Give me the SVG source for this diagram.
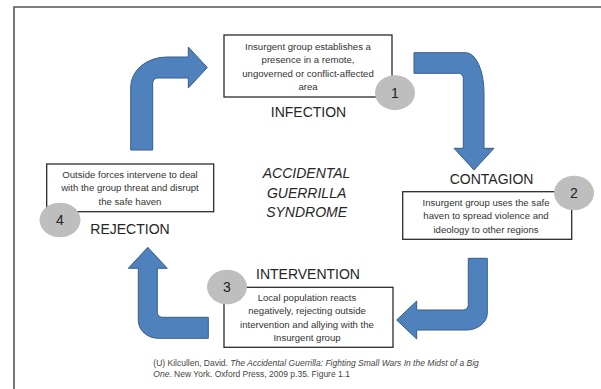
<svg xmlns="http://www.w3.org/2000/svg" width="601" height="389" viewBox="0 0 601 389">
<style>
.box{fill:#fff;stroke:#2b2b2b;stroke-width:1.3}
.bt{font-family:"Liberation Sans",Arial,sans-serif;font-size:9.6px;fill:#333;text-anchor:middle}
.hd{font-family:"Liberation Sans",Arial,sans-serif;font-size:14px;fill:#262626;text-anchor:middle}
.num{font-family:"Liberation Sans",Arial,sans-serif;font-size:14px;fill:#222;text-anchor:middle}
.badge{fill:#bebebe}
.arr{fill:#4f81bd;stroke:#385d8a;stroke-width:1}
.ctr{font-family:"Liberation Sans",Arial,sans-serif;font-size:14px;font-style:italic;fill:#262626;text-anchor:middle}
.cit{font-family:"Liberation Sans",Arial,sans-serif;font-size:8.5px;fill:#444}
</style>
<rect width="601" height="389" fill="#fff"/>
<path d="M14,389 V7 H601" fill="none" stroke="#555" stroke-width="1.6"/>
<g id="connectors">
<path class="arr" d="M414,52.7 H466 A18,40 0 0 1 484,93 V148.3 H494 L474,170 L454,148.3 H463.3 V78.3 A5,5 0 0 0 458.3,73.3 H414 Z"/>
<path class="arr" d="M468.3,258.3 H487.3 V313 A21,17 0 0 1 466.3,330 H416.7 V339 L396.7,320 L416.7,301 V310 H463.3 A5,5 0 0 0 468.3,305 Z"/>
<path class="arr" d="M208.3,317.3 V338.3 H158.3 A20,18 0 0 1 138.3,320.3 V268.3 H128.3 L147.8,247.3 L167.3,268.3 H157.3 V312.3 A5,5 0 0 0 162.3,317.3 Z"/>
<path class="arr" d="M130.7,150 V87 A36,30 0 0 1 166.7,57 H188.3 V47 L207.3,67.5 L188.3,88 V78 H157.7 A5,5 0 0 0 152.7,83 V150 Z"/>
</g>
<g id="infection">
<rect class="box" x="224" y="35" width="168" height="62"/>
<text class="bt" x="308" y="50">Insurgent group establishes a</text>
<text class="bt" x="308" y="63.3">presence in a remote,</text>
<text class="bt" x="308" y="76.6">ungoverned or conflict-affected</text>
<text class="bt" x="308" y="90">area</text>
<ellipse class="badge" cx="395" cy="92.7" rx="20" ry="17.5"/>
<text class="num" x="395" y="97.7">1</text>
<text class="hd" x="308.5" y="116.7">INFECTION</text>
</g>
<g id="contagion">
<text class="hd" x="491.6" y="183.5">CONTAGION</text>
<rect class="box" x="402.7" y="191.7" width="169" height="47.6"/>
<text class="bt" x="486" y="206">Insurgent group uses the safe</text>
<text class="bt" x="486" y="219.3">haven to spread violence and</text>
<text class="bt" x="486" y="232.6">ideology to other regions</text>
<ellipse class="badge" cx="574" cy="193" rx="20" ry="17.3"/>
<text class="num" x="574" y="198">2</text>
</g>
<g id="intervention">
<text class="hd" x="308" y="278.5">INTERVENTION</text>
<rect class="box" x="224" y="287.3" width="169" height="60"/>
<text class="bt" x="307" y="301">Local population reacts</text>
<text class="bt" x="307" y="314.3">negatively, rejecting outside</text>
<text class="bt" x="307" y="327.6">intervention and allying with the</text>
<text class="bt" x="307" y="341">Insurgent group</text>
<ellipse class="badge" cx="227" cy="287" rx="20" ry="17.3"/>
<text class="num" x="227" y="292">3</text>
</g>
<g id="rejection">
<rect class="box" x="46.7" y="164" width="167" height="47.7"/>
<text class="bt" x="130" y="177.5">Outside forces intervene to deal</text>
<text class="bt" x="130" y="191">with the group threat and disrupt</text>
<text class="bt" x="130" y="204.5">the safe haven</text>
<ellipse class="badge" cx="60" cy="220" rx="20.5" ry="17.3"/>
<text class="num" x="60" y="225">4</text>
<text class="hd" x="130" y="233.5">REJECTION</text>
</g>
<g id="title">
<text class="ctr" x="306.6" y="178.3">ACCIDENTAL</text>
<text class="ctr" x="306.6" y="197.7">GUERRILLA</text>
<text class="ctr" x="306.6" y="217.3">SYNDROME</text>
</g>
<g id="citation">
<text class="cit" x="153.3" y="366">(U) Kilcullen, David. <tspan font-style="italic">The Accidental Guerrilla: Fighting Small Wars In the Midst of a Big</tspan></text>
<text class="cit" x="153.3" y="377"><tspan font-style="italic">One</tspan>. New York. Oxford Press, 2009 p.35. Figure 1.1</text>
</g>
</svg>
